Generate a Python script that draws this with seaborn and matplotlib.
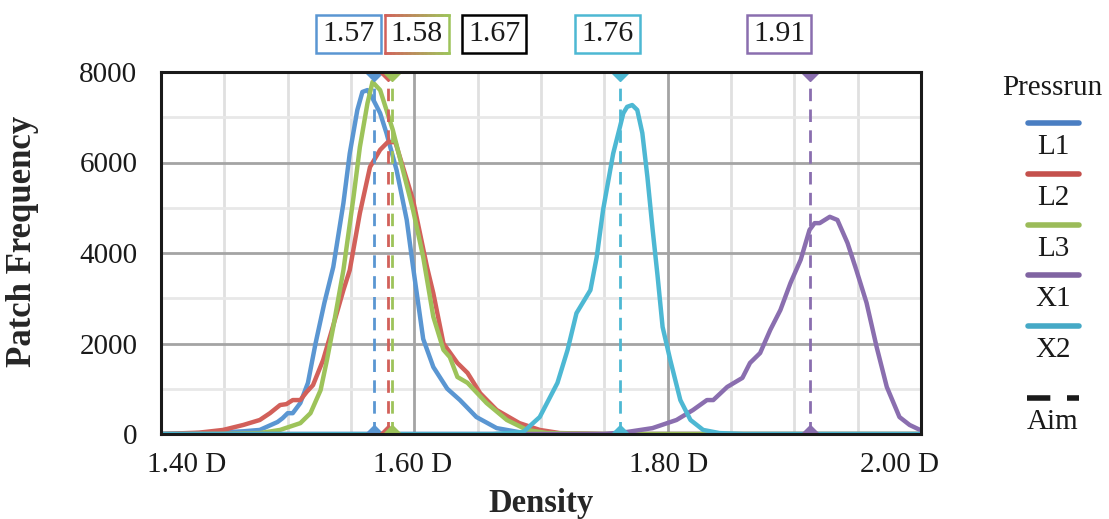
import numpy as np
import pandas as pd
import matplotlib
matplotlib.use("Agg")
import matplotlib.pyplot as plt
from matplotlib.lines import Line2D
from matplotlib.collections import LineCollection
from matplotlib.transforms import ScaledTranslation, blended_transform_factory
import matplotlib.colors as mcolors
import seaborn as sns

# ---------------- data ----------------
series_names = ["L1", "L2", "L3", "X1", "X2"]

l1_x = [1.400, 1.430, 1.450, 1.465, 1.478, 1.492, 1.496, 1.500, 1.504, 1.510, 1.516, 1.522, 1.529,
        1.536, 1.544, 1.549, 1.555, 1.559, 1.563, 1.567, 1.573, 1.578, 1.586, 1.594, 1.599, 1.607,
        1.615, 1.626, 1.636, 1.649, 1.665, 1.683, 1.700, 2.000]
l1_y = [0, 20, 40, 60, 90, 265, 350, 460, 460, 685, 1130, 2000, 2900,
        3690, 5100, 6200, 7160, 7560, 7600, 7420, 7090, 6650, 5830, 4730, 3690, 2100,
        1480, 1000, 750, 375, 130, 40, 0, 0]

l2_x = [1.400, 1.430, 1.449, 1.465, 1.478, 1.486, 1.494, 1.499, 1.504, 1.510, 1.515, 1.520, 1.528,
        1.536, 1.544, 1.549, 1.557, 1.565, 1.573, 1.579, 1.585, 1.591, 1.599, 1.610, 1.615, 1.623,
        1.634, 1.642, 1.652, 1.665, 1.683, 1.699, 1.715, 1.750, 2.000]
l2_y = [0, 30, 90, 200, 310, 460, 640, 660, 750, 750, 930, 1080, 1635,
        2400, 3180, 3620, 4880, 5900, 6280, 6450, 6450, 5900, 5170, 3690, 3110, 2000,
        1570, 1350, 900, 530, 240, 90, 20, 0, 0]

l3_x = [1.400, 1.450, 1.478, 1.494, 1.510, 1.518, 1.526, 1.531, 1.536, 1.544, 1.552, 1.557, 1.563,
        1.567, 1.573, 1.578, 1.583, 1.591, 1.599, 1.607, 1.615, 1.623, 1.628, 1.634, 1.642, 1.657,
        1.673, 1.689, 1.705, 1.750, 2.000]
l3_y = [0, 5, 20, 90, 240, 460, 970, 1635, 2365, 3620, 5240, 6340, 7310,
        7780, 7600, 7160, 6720, 5830, 4950, 3910, 2590, 1860, 1700, 1260, 1130, 685,
        310, 90, 20, 0, 0]

x1_x = [1.400, 1.750, 1.768, 1.788, 1.807, 1.820, 1.831, 1.836, 1.847, 1.859, 1.865, 1.873, 1.881,
        1.889, 1.897, 1.905, 1.912, 1.916, 1.920, 1.928, 1.934, 1.942, 1.949, 1.957, 1.965, 1.973,
        1.983, 1.991, 2.000]
x1_y = [0, 0, 45, 130, 310, 530, 750, 750, 1040, 1240, 1570, 1790, 2300,
        2740, 3340, 3850, 4510, 4660, 4660, 4800, 4730, 4220, 3620, 2900, 1920, 1040,
        375, 200, 80]

x2_x = [1.400, 1.662, 1.686, 1.699, 1.713, 1.721, 1.728, 1.739, 1.744, 1.749, 1.757, 1.762, 1.765,
        1.768, 1.772, 1.776, 1.780, 1.784, 1.788, 1.792, 1.796, 1.802, 1.810, 1.818, 1.828, 1.841,
        1.860, 2.000]
x2_y = [0, 0, 45, 375, 1130, 1860, 2670, 3180, 3910, 4950, 6200, 6750, 7090,
        7230, 7270, 7160, 6650, 5680, 4550, 3500, 2365, 1640, 750, 310, 90, 20,
        0, 0]

aim_values = [1.568, 1.579, 1.582, 1.912, 1.762]      # per series (L1, L2, L3, X1, X2)
box_labels = ["1.57", "1.58", "1.67", "1.76", "1.91"]
x_ticks = [1.40, 1.60, 1.80, 2.00]
x_tick_labels = ["1.40 D", "1.60 D", "1.80 D", "2.00 D"]
y_ticks = [0, 2000, 4000, 6000, 8000]

# ---------------- styles ----------------
colors = {"L1": "#5A96D2", "L2": "#D2605A", "L3": "#9DC35A", "X1": "#8A6EAF", "X2": "#4DB8D3"}
legend_colors = {"L1": "#4A7EC2", "L2": "#C4504C", "L3": "#9BBB59", "X1": "#8064A2", "X2": "#45A9C6"}

sns.set_style("white")
plt.rcParams["font.family"] = ["Liberation Serif", "DejaVu Serif"]

W, H = 1109, 519
fig = plt.figure(figsize=(W / 100, H / 100), dpi=100)
ax = fig.add_axes([161 / W, 1 - 434 / H, (921 - 161) / W, (434 - 72) / H])

frames = []
for name, xs, ys in [("L1", l1_x, l1_y), ("L2", l2_x, l2_y), ("L3", l3_x, l3_y),
                     ("X1", x1_x, x1_y), ("X2", x2_x, x2_y)]:
    frames.append(pd.DataFrame({"Density": xs, "Frequency": ys, "Pressrun": name}))
df = pd.concat(frames, ignore_index=True)

# grid
for v in np.arange(1.45, 2.0, 0.05):
    if abs(v - 1.6) > 1e-6 and abs(v - 1.8) > 1e-6:
        ax.axvline(v, color="#E0E0E0", lw=2.0, zorder=0)
for v in [1.6, 1.8]:
    ax.axvline(v, color="#A4A4A4", lw=2.0, zorder=0.5)
for v in [1000, 3000, 5000, 7000]:
    ax.axhline(v, color="#E8E8E8", lw=2.0, zorder=0)
for v in [2000, 4000, 6000]:
    ax.axhline(v, color="#A4A4A4", lw=2.0, zorder=0.5)

n_before = len(ax.get_lines())
sns.lineplot(data=df, x="Density", y="Frequency", hue="Pressrun", palette=colors,
             hue_order=series_names, sort=False, estimator=None, linewidth=3.2, ax=ax,
             legend=False, zorder=3)
for ln in ax.get_lines()[n_before:]:
    ln.set_linewidth(3.2)
    ln.set_solid_joinstyle("round")
    ln.set_solid_capstyle("round")

# aim lines
for name, a in zip(series_names, aim_values):
    ax.plot([a, a], [0, 8000], color=colors[name], lw=2.0, ls=(0, (4.5, 3)), zorder=4)
    ax.plot([a, a], [0, 8000], ls="none", marker="D", ms=9, color=colors[name],
            clip_on=True, zorder=5)

ax.set_xlim(1.40, 2.00)
ax.set_ylim(0, 8000)
ax.set_xticks(x_ticks)
ax.set_xticklabels(x_tick_labels)
ax.set_yticks(y_ticks)
ax.tick_params(axis="both", length=0, labelsize=21, colors="#1a1a1a")
ax.tick_params(axis="x", pad=13)
ax.tick_params(axis="y", pad=17)
shifts = [26, -2, 1, -21]
for lab, dx in zip(ax.get_xticklabels(), shifts):
    lab.set_transform(lab.get_transform() + ScaledTranslation(dx / 100, 0, fig.dpi_scale_trans))

ax.set_xlabel("Density", fontsize=23.5, fontweight="bold")
ax.xaxis.set_label_coords(0.5, -0.148)
ax.set_ylabel("Patch Frequency", fontsize=25, fontweight="bold")
ax.yaxis.set_label_coords(-0.160, 0.533)
for s in ax.spines.values():
    s.set_color("#1a1a1a")
    s.set_linewidth(2.2)
    s.set_zorder(6)

# top value boxes
box_x = [1.548, 1.602, 1.663, 1.7525, 1.888]
box_edges = ["#5A96D2", "none", "#000000", "#4DB8D3", "#8A6EAF"]
trans = blended_transform_factory(ax.transData, ax.transAxes)
texts = []
for lbl, bx, ec in zip(box_labels, box_x, box_edges):
    t = ax.text(bx, 1.106, lbl, transform=trans, ha="center", va="center", fontsize=21.5,
                color="#1a1a1a",
                bbox=dict(boxstyle="square,pad=0.2", fc="white", ec=ec, lw=1.8),
                clip_on=False)
    texts.append(t)

# legend (manual)
fig.text(1052 / W, 1 - 88 / H, "Pressrun", ha="center", va="center", fontsize=21, color="#1a1a1a")
for i, name in enumerate(series_names):
    yl = 123 + 50.8 * i
    fig.add_artist(Line2D([1028 / W, 1079 / W], [1 - yl / H] * 2, color=legend_colors[name],
                          lw=4, transform=fig.transFigure))
    fig.text(1053 / W, 1 - (yl + 24) / H, name, ha="center", va="center", fontsize=21,
             color="#1a1a1a")
fig.add_artist(Line2D([1027 / W, 1079 / W], [1 - 398 / H] * 2, color="#1a1a1a", lw=4,
                      ls=(0, (4.2, 3.0)), transform=fig.transFigure))
fig.text(1053 / W, 1 - 422 / H, "Aim", ha="center", va="center", fontsize=21, color="#1a1a1a")

# gradient border for the shared L2/L3 box
fig.canvas.draw()
bb = texts[1].get_bbox_patch().get_window_extent()
x0, y0, x1, y1 = bb.x0, bb.y0, bb.x1, bb.y1
c_left = np.array(mcolors.to_rgb(colors["L2"]))
c_right = np.array(mcolors.to_rgb(colors["L3"]))
n = 40
segs, cols = [], []
xs = np.linspace(x0, x1, n + 1)
for k in range(n):
    f = (k + 0.5) / n
    c = c_left * (1 - f) + c_right * f
    segs.append([(xs[k], y0), (xs[k + 1], y0)]); cols.append(c)
    segs.append([(xs[k], y1), (xs[k + 1], y1)]); cols.append(c)
segs.append([(x0, y0), (x0, y1)]); cols.append(c_left)
segs.append([(x1, y0), (x1, y1)]); cols.append(c_right)
lc = LineCollection(segs, colors=cols, linewidths=1.8, transform=None, capstyle="projecting")
fig.add_artist(lc)

fig.savefig("out.png", dpi=100)
